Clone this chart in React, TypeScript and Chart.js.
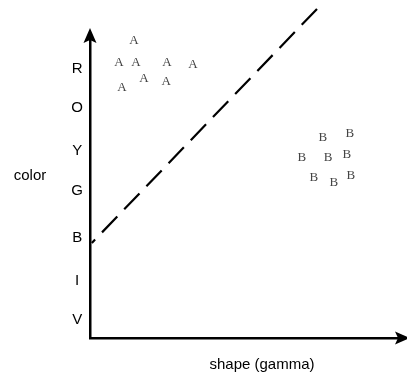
import React, { useEffect, useRef } from "react";
import { Chart, registerables } from "chart.js";

Chart.register(...registerables);

// Colour bands on the vertical axis, top to bottom
const colorLabels = ["R", "O", "Y", "G", "B", "I", "V"];
const colorLevels = [9.04, 7.73, 6.28, 4.93, 3.36, 1.91, 0.6];

// Group A samples
const groupAShape = [1.43, 0.94, 1.49, 2.5, 3.34, 1.75, 2.47, 1.04];
const groupAColor = [9.97, 9.23, 9.23, 9.23, 9.19, 8.72, 8.59, 8.42];

// Group B samples
const groupBShape = [7.56, 8.44, 6.88, 7.73, 8.34, 7.27, 7.92, 8.47];
const groupBColor = [6.74, 6.85, 6.07, 6.07, 6.14, 5.37, 5.2, 5.44];

// Separating boundary (drawn from its upper end down)
const boundaryShape = [7.37, 0.06];
const boundaryColor = [11.04, 3.19];

const xTitle = "shape (gamma)";
const yTitle = "color";

const SANS = '"Liberation Sans", Arial, Helvetica, sans-serif';
const LETTER = '"Liberation Serif", "DejaVu Serif", serif';

const toPoints = (xs: number[], ys: number[]) => xs.map((x, i) => ({ x, y: ys[i] }));

// Writes each sample's group letter at its point position
const letterMarks = {
  id: "letterMarks",
  afterDatasetsDraw(chart: any) {
    const ctx = chart.ctx;
    chart.data.datasets.forEach((ds: any, i: number) => {
      if (!ds.isLetters) return;
      const meta = chart.getDatasetMeta(i);
      ctx.save();
      ctx.font = `13px ${LETTER}`;
      ctx.fillStyle = "#444";
      ctx.textAlign = "center";
      ctx.textBaseline = "middle";
      meta.data.forEach((el: any) => ctx.fillText(ds.label, el.x, el.y));
      ctx.restore();
    });
  },
};

// Arrowheads on the axes and the axis titles
const axisDecor = {
  id: "axisDecor",
  afterDraw(chart: any) {
    const { ctx, chartArea: a } = chart;
    ctx.save();
    ctx.fillStyle = "#000";
    // vertical arrow
    const ax = a.left;
    const tipY = a.top - 12;
    ctx.beginPath();
    ctx.moveTo(ax, tipY);
    ctx.lineTo(ax + 6.5, tipY + 15);
    ctx.lineTo(ax, tipY + 12);
    ctx.lineTo(ax - 6.5, tipY + 15);
    ctx.closePath();
    ctx.fill();
    // horizontal arrow
    const ay = a.bottom;
    const tipX = a.right + 12;
    ctx.beginPath();
    ctx.moveTo(tipX, ay);
    ctx.lineTo(tipX - 15, ay - 6.5);
    ctx.lineTo(tipX - 12, ay);
    ctx.lineTo(tipX - 15, ay + 6.5);
    ctx.closePath();
    ctx.fill();
    // titles
    ctx.font = `15px ${SANS}`;
    ctx.textAlign = "center";
    ctx.textBaseline = "middle";
    ctx.fillText(xTitle, 262, 365);
    ctx.fillText(yTitle, 30, 176);
    ctx.restore();
  },
};

export default function App() {
  const canvasRef = useRef<HTMLCanvasElement | null>(null);

  useEffect(() => {
    if (!canvasRef.current) return;
    const chart = new Chart(canvasRef.current, {
      type: "scatter",
      data: {
        datasets: [
          {
            label: "boundary",
            data: toPoints(boundaryShape, boundaryColor),
            showLine: true,
            borderColor: "#000",
            borderWidth: 2.2,
            borderDash: [22, 10],
            pointRadius: 0,
            clip: false,
          } as any,
          {
            label: "A",
            isLetters: true,
            data: toPoints(groupAShape, groupAColor),
            pointRadius: 0,
          } as any,
          {
            label: "B",
            isLetters: true,
            data: toPoints(groupBShape, groupBColor),
            pointRadius: 0,
          } as any,
        ],
      },
      options: {
        responsive: false,
        animation: false,
        events: [],
        layout: { padding: { top: 40, right: 9, left: 0, bottom: 0 } },
        plugins: { legend: { display: false }, tooltip: { enabled: false } },
        scales: {
          x: {
            type: "linear",
            min: 0,
            max: 10,
            grid: { display: false, drawTicks: false },
            border: { display: true, color: "#000", width: 2.5 },
            ticks: { display: false },
            afterFit: (scale: any) => {
              scale.height = 36;
            },
          },
          y: {
            type: "linear",
            min: 0,
            max: 10,
            grid: { display: false, drawTicks: false },
            border: { display: true, color: "#000", width: 2.5 },
            ticks: {
              color: "#000",
              padding: 7,
              crossAlign: "center",
              autoSkip: false,
              font: { family: SANS, size: 15 },
              callback: (_v: any, i: number) => colorLabels[i],
            },
            afterBuildTicks: (scale: any) => {
              scale.ticks = colorLevels.map((value) => ({ value }));
            },
            afterFit: (scale: any) => {
              scale.width = 90;
            },
          },
        },
      },
      plugins: [letterMarks, axisDecor],
    });
    return () => chart.destroy();
  }, []);

  return (
    <div style={{ position: "fixed", left: 0, top: 0, width: 407, height: 374, background: "#fff" }}>
      <canvas ref={canvasRef} width={407} height={374} style={{ display: "block" }} />
    </div>
  );
}
